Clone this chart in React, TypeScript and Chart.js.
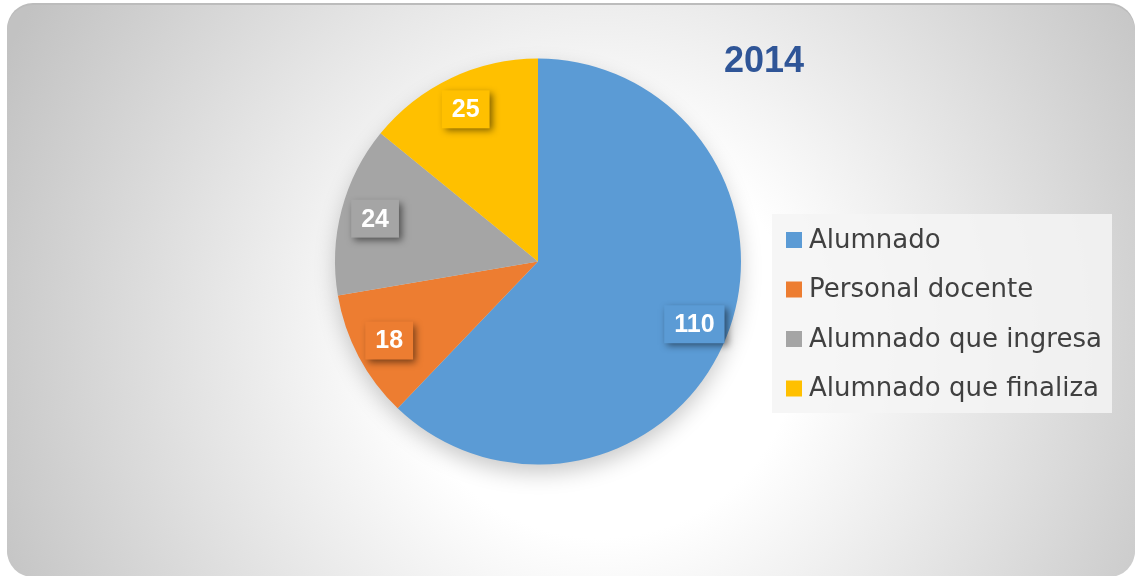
import React, { useEffect, useRef } from "react";
import { Chart, registerables } from "chart.js";

Chart.register(...registerables);

const TITLE = "2014";
const CATEGORIES = ["Alumnado", "Personal docente", "Alumnado que ingresa", "Alumnado que finaliza"];
const VALUES = [110, 18, 24, 25];
const COLORS = ["#5B9BD5", "#ED7D31", "#A5A5A5", "#FFC000"];

const W = 1136;
const H = 576;

function roundRect(ctx: CanvasRenderingContext2D, x: number, y: number, w: number, h: number, r: number) {
  ctx.beginPath();
  ctx.moveTo(x + r, y);
  ctx.lineTo(x + w - r, y);
  ctx.arcTo(x + w, y, x + w, y + r, r);
  ctx.lineTo(x + w, y + h - r);
  ctx.arcTo(x + w, y + h, x + w - r, y + h, r);
  ctx.lineTo(x + r, y + h);
  ctx.arcTo(x, y + h, x, y + h - r, r);
  ctx.lineTo(x, y + r);
  ctx.arcTo(x, y, x + r, y, r);
  ctx.closePath();
}

const backgroundPlugin = {
  id: "panelBg",
  beforeDraw(chart: any) {
    const ctx: CanvasRenderingContext2D = chart.ctx;
    ctx.save();
    ctx.fillStyle = "#ffffff";
    ctx.fillRect(0, 0, W, H);
    // top edge shade
    roundRect(ctx, 7, 3, 1128, 572, 26);
    ctx.fillStyle = "#bcbcbc";
    ctx.fill();
    const g = ctx.createRadialGradient(600, 340, 0, 600, 340, 660);
    g.addColorStop(0, "#ffffff");
    g.addColorStop(0.3, "#ffffff");
    g.addColorStop(1, "#c2c2c2");
    roundRect(ctx, 7, 5, 1128, 572, 26);
    ctx.fillStyle = g;
    ctx.fill();
    ctx.restore();
  },
};

const pieShadowPlugin = {
  id: "pieShadow",
  beforeDatasetsDraw(chart: any) {
    const meta = chart.getDatasetMeta(0);
    const arc = meta.data[0];
    if (!arc) return;
    const ctx: CanvasRenderingContext2D = chart.ctx;
    ctx.save();
    ctx.shadowColor = "rgba(0,0,0,0.22)";
    ctx.shadowBlur = 22;
    ctx.shadowOffsetX = 0;
    ctx.shadowOffsetY = 9;
    ctx.beginPath();
    ctx.arc(arc.x, arc.y, arc.outerRadius - 1, 0, Math.PI * 2);
    ctx.fillStyle = "#dddddd";
    ctx.fill();
    ctx.restore();
  },
};

const labelsPlugin = {
  id: "boxLabels",
  afterDatasetsDraw(chart: any) {
    const ctx: CanvasRenderingContext2D = chart.ctx;
    const meta = chart.getDatasetMeta(0);
    const data = chart.data.datasets[0].data as number[];
    const colors = chart.data.datasets[0].backgroundColor as string[];
    ctx.save();
    ctx.font = "bold 25px 'Liberation Sans', Arial, sans-serif";
    meta.data.forEach((arc: any, i: number) => {
      const mid = (arc.startAngle + arc.endAngle) / 2;
      const r = arc.outerRadius * 0.83;
      const cx = arc.x + Math.cos(mid) * r;
      const cy = arc.y + Math.sin(mid) * r;
      const text = String(data[i]);
      const tw = ctx.measureText(text).width;
      const bw = tw + 20;
      const bh = 38;
      ctx.save();
      ctx.shadowColor = "rgba(0,0,0,0.5)";
      ctx.shadowBlur = 7;
      ctx.shadowOffsetX = 3;
      ctx.shadowOffsetY = 3;
      ctx.fillStyle = colors[i];
      ctx.fillRect(cx - bw / 2, cy - bh / 2, bw, bh);
      ctx.restore();
      ctx.fillStyle = "#ffffff";
      ctx.textAlign = "center";
      ctx.textBaseline = "middle";
      ctx.fillText(text, cx, cy + 1);
    });
    ctx.restore();
  },
};

const titleLegendPlugin = {
  id: "titleLegend",
  afterDraw(chart: any) {
    const ctx: CanvasRenderingContext2D = chart.ctx;
    const labels = chart.data.labels as string[];
    const colors = chart.data.datasets[0].backgroundColor as string[];
    ctx.save();
    // title
    ctx.font = "bold 36px 'Liberation Sans', Arial, sans-serif";
    ctx.fillStyle = "#2F5597";
    ctx.textAlign = "center";
    ctx.textBaseline = "alphabetic";
    ctx.fillText(chart.options.plugins.title.text, 764, 72);
    // legend box
    ctx.fillStyle = "rgba(244,244,244,0.85)";
    ctx.fillRect(772, 214, 340, 199);
    ctx.font = "26px 'DejaVu Sans', Verdana, sans-serif";
    ctx.textAlign = "left";
    ctx.textBaseline = "middle";
    labels.forEach((lab, i) => {
      const cy = 240 + i * 49.5;
      ctx.fillStyle = colors[i];
      ctx.fillRect(786, cy - 8, 16, 16);
      ctx.fillStyle = "#404040";
      ctx.fillText(lab, 809, cy + 1);
    });
    ctx.restore();
  },
};

export default function App() {
  const ref = useRef<HTMLCanvasElement | null>(null);
  useEffect(() => {
    document.body.style.margin = "0";
    const canvas = ref.current;
    if (!canvas) return;
    const chart = new Chart(canvas, {
      type: "pie",
      data: {
        labels: CATEGORIES,
        datasets: [
          {
            data: VALUES,
            backgroundColor: COLORS,
            borderWidth: 0,
          },
        ],
      },
      options: {
        responsive: false,
        animation: false,
        layout: { padding: { left: 335, right: 395, top: 58, bottom: 111 } },
        plugins: {
          legend: { display: false },
          tooltip: { enabled: false },
          title: { display: false, text: TITLE },
        },
      },
      plugins: [backgroundPlugin, pieShadowPlugin, labelsPlugin, titleLegendPlugin],
    });
    return () => chart.destroy();
  }, []);
  return (
    <div style={{ width: W, height: H }}>
      <canvas ref={ref} width={W} height={H} style={{ display: "block", width: W, height: H }} />
    </div>
  );
}
